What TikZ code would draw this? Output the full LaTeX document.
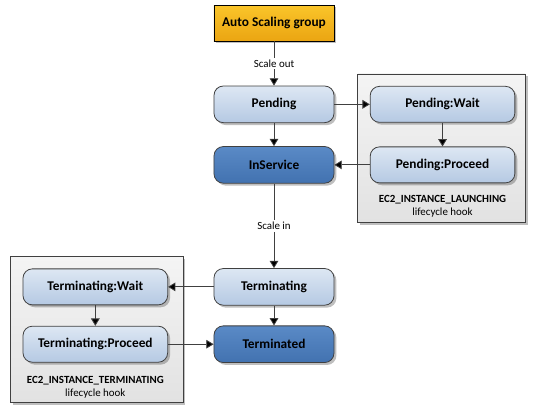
\documentclass[tikz,border=0pt]{standalone}
\usepackage{fontspec}
\setmainfont{Carlito}
\usepackage{tikz}
\usetikzlibrary{positioning, arrows.meta, shadows, backgrounds}

\definecolor{linegray}{HTML}{404040}
\definecolor{asgtop}{HTML}{FAC52A}
\definecolor{asgbot}{HTML}{EBA512}
\definecolor{lbtop}{HTML}{DDE7F3}
\definecolor{lbbot}{HTML}{B5C9E3}
\definecolor{dbtop}{HTML}{5A8AC6}
\definecolor{dbbot}{HTML}{4272B0}
\definecolor{hooktop}{HTML}{F4F4F4}
\definecolor{hookbot}{HTML}{E2E2E2}

\tikzset{
  softshadow/.style={drop shadow={shadow xshift=1.8pt, shadow yshift=-1.8pt, opacity=0.25, fill=black}},
  group/.style={draw=black, line width=0.6pt, minimum width=90pt, minimum height=27pt,
    top color=asgtop, bottom color=asgbot, softshadow,
    font=\fontsize{10}{12}\selectfont\bfseries},
  phase/.style={draw=linegray, line width=0.6pt, rounded corners=7pt,
    minimum width=90pt, minimum height=27.5pt, top color=lbtop, bottom color=lbbot,
    softshadow, font=\fontsize{10}{12}\selectfont\bfseries\color{black}},
  hookphase/.style={phase, minimum width=108.5pt, minimum height=27pt},
  steady/.style={phase, top color=dbtop, bottom color=dbbot, text=black},
  hookbox/.style={draw=linegray, line width=0.6pt, top color=hooktop, bottom color=hookbot, softshadow},
  hooktext/.style={align=center, font=\fontsize{8.2}{9.75}\selectfont},
  flowlabel/.style={fill=white, inner sep=1.5pt, font=\fontsize{8.2}{9}\selectfont}
}

\begin{document}
\begin{tikzpicture}[node distance=45.4pt, on grid,
    >={Triangle[length=5.5pt, width=6.5pt]}]
   \useasboundingbox (-205.5pt,17.25pt) rectangle (195.75pt,-291pt);

   % 定义状态节点
   \node[group] (asg) {Auto Scaling group};
   \node[phase] (pend) [below=61pt of asg] {Pending};
   \node[steady] (insv) [below=of pend] {InService};
   \node[hookphase] (pwait) [right=126.4pt of pend] {Pending:Wait};
   \node[hookphase] (pproc) [below=of pwait] {Pending:Proceed};
   \node[phase] (term) [below=91.5pt of insv] {Terminating};
   \node[steady] (tmd) [below=43pt of term] {Terminated};
   \node[hookphase] (twait) [left=134pt of term] {Terminating:Wait};
   \node[hookphase] (tproc) [below=43pt of twait] {Terminating:Proceed};

   % 生命周期挂钩说明
   \node[hooktext] (lhook) [below=31pt of pproc] {\textbf{EC2\_INSTANCE\_LAUNCHING}\\lifecycle hook};
   \node[hooktext] (thook) [below=32pt of tproc] {\textbf{EC2\_INSTANCE\_TERMINATING}\\lifecycle hook};

   % 背景框
   \begin{scope}[on background layer]
     \path[hookbox] ([xshift=-9pt, yshift=9pt]pwait.north west)
       rectangle ([xshift=7.5pt, yshift=-29.25pt]pproc.south east);
     \path[hookbox] ([xshift=-9pt, yshift=9pt]twait.north west)
       rectangle ([xshift=11.25pt, yshift=-30pt]tproc.south east);
   \end{scope}

   % 绘制转移箭头
   \path[->, draw=linegray, line width=0.6pt]
   % 扩展
   (asg) edge node[flowlabel] {Scale out} (pend)
   (pend) edge (insv)
          edge (pwait)
   (pwait) edge (pproc)
   (pproc) edge (insv)
   % 缩减
   (insv) edge node[flowlabel] {Scale in} (term)
   (term) edge (twait)
          edge (tmd)
   (twait) edge (tproc)
   (tproc) edge (tmd);
\end{tikzpicture}
\end{document}
